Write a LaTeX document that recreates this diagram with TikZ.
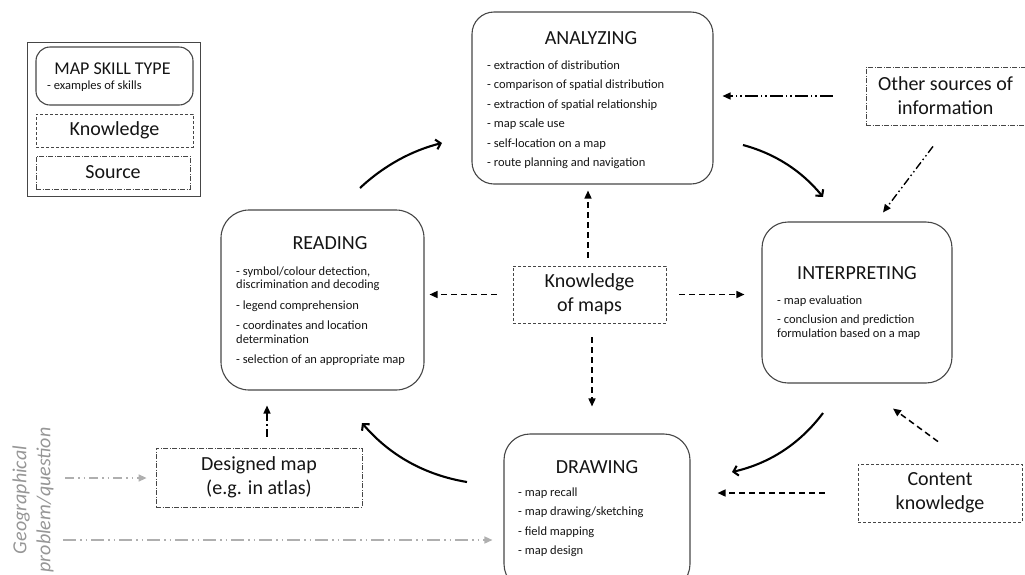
\documentclass[tikz,border=0pt]{standalone}
\usepackage{fontspec}
\setmainfont{Carlito}
\usetikzlibrary{arrows.meta,calc}
\definecolor{bord}{RGB}{70,70,70}
\definecolor{txt}{RGB}{20,20,20}
\definecolor{geo}{RGB}{150,150,150}
\definecolor{garr}{RGB}{175,175,175}
\newcommand\bigfnt{\fontsize{20}{24}\selectfont}
\newcommand\legfnt{\fontsize{18}{21}\selectfont}
\newcommand\itemfnt{\fontsize{12.5}{13.5}\selectfont}
\begin{document}
\begin{tikzpicture}[x=1pt,y=-1pt,
  skillbox/.style={draw=bord, line width=1.1pt, rounded corners=22pt, inner sep=0pt},
  knowbox/.style={draw=bord, line width=0.8pt, dash pattern=on 3pt off 2pt, inner sep=0pt, align=center, font=\bigfnt, text=txt},
  srcbox/.style={draw=bord, line width=0.8pt, dash pattern=on 5pt off 1.5pt on 1pt off 1.5pt, inner sep=0pt, align=center, font=\bigfnt, text=txt},
  ttl/.style={font=\bigfnt, inner sep=0pt, text=txt},
  items/.style={font=\itemfnt, align=left, inner sep=0pt, anchor=north west, text=txt},
  cyc/.style={line width=2.1pt, draw=black, -{Straight Barb[length=4.5pt,width=10pt]}},
  kno/.style={line width=1.5pt, dash pattern=on 6pt off 4pt, -{Triangle[length=8pt,width=7pt]}},
  srcarr/.style={line width=1.4pt, dash pattern=on 13pt off 3pt on 1.5pt off 3pt on 1.5pt off 3pt, -{Triangle[length=8pt,width=7pt]}},
  srcarrb/.style={line width=1.4pt, dash pattern=on 8pt off 3pt on 1.5pt off 3pt on 1.5pt off 3pt, -{Triangle[length=8pt,width=7pt]}},
  dmarr/.style={line width=1.4pt, dash pattern=on 8pt off 3pt on 1.5pt off 3pt, -{Triangle[length=8pt,width=7pt]}},
  grayarr/.style={line width=1.4pt, draw=garr, dash pattern=on 13pt off 4pt on 1.5pt off 4pt on 1.5pt off 4pt, -{Triangle[length=8pt,width=7pt,fill=garr]}},
]
\useasboundingbox (0,0) rectangle (1025,574);

% legend
\node[draw=bord, line width=1pt, minimum width=173pt, minimum height=154pt, inner sep=0pt] (leg) at (113.5,119) {};
\node[skillbox, rounded corners=14pt, minimum width=157pt, minimum height=58pt] (lskill) at (114.5,76) {};
\node[font=\legfnt, inner sep=0pt, text=txt] (lskillt) at (112.5,69) {MAP SKILL TYPE};
\node[items] (lskilli) at (47,80.5) {- examples of skills};
\node[knowbox, minimum width=157pt, minimum height=33pt] (lknow) at (114.5,130.5) {Knowledge};
\node[srcbox, minimum width=154pt, minimum height=33pt] (lsrc) at (113,172.5) {Source};

% ANALYZING
\node[skillbox, minimum width=241pt, minimum height=172pt] (ana) at (592.5,98) {};
\node[ttl] (anat) at (591,38) {ANALYZING};
\node[items] (anai) at (487,60.5) {- extraction of distribution\\[6pt]
- comparison of spatial distribution\\[6pt]
- extraction of spatial relationship\\[6pt]
- map scale use\\[6pt]
- self-location on a map\\[6pt]
- route planning and navigation};

% Other sources
\node[srcbox, minimum width=159pt, minimum height=58pt] (oth) at (945.5,96) {Other sources of\\information};

% READING
\node[skillbox, rounded corners=28pt, minimum width=203pt, minimum height=180pt] (read) at (322.5,300) {};
\node[ttl] (readt) at (330,243) {READING};
\node[items] (readi) at (236,266.5) {- symbol/colour detection,\\
discrimination and decoding\\[7pt]
- legend comprehension\\[7pt]
- coordinates and location\\
determination\\[7pt]
- selection of an appropriate map};

% Knowledge of maps
\node[knowbox, minimum width=153pt, minimum height=57pt] (km) at (589.5,294.5) {Knowledge\\of maps};

% INTERPRETING
\node[skillbox, rounded corners=26pt, minimum width=190pt, minimum height=161pt] (interp) at (857,302.5) {};
\node[ttl] (interpt) at (857,273) {INTERPRETING};
\node[items] (interpi) at (777,295.5) {- map evaluation\\[6pt]
- conclusion and prediction\\
formulation based on a map};

% DRAWING
\node[skillbox, rounded corners=26pt, minimum width=186pt, minimum height=156pt] (drw) at (597,512) {};
\node[ttl] (drwt) at (597,467) {DRAWING};
\node[items] (drwi) at (518,487.5) {- map recall\\[6pt]
- map drawing/sketching\\[6pt]
- field mapping\\[6pt]
- map design};

% Content knowledge
\node[knowbox, minimum width=164pt, minimum height=58pt] (cont) at (940,493) {Content\\knowledge};

% Designed map
\node[srcbox, minimum width=206pt, minimum height=59pt] (dm) at (259,477.5) {Designed map\\(e.g. in atlas)};

% Geographical problem/question
\node[rotate=90, align=center, font=\bigfnt\itshape, text=geo, inner sep=0pt] (geo) at (33,500) {Geographical\\problem/question};

% cycle arrows
\coordinate (c1s) at (360,188); \coordinate (c1e) at (442,143);
\coordinate (c2s) at (743,145); \coordinate (c2e) at (823,197);
\coordinate (c3s) at (823,413); \coordinate (c3e) at (732,472);
\coordinate (c4s) at (467,482); \coordinate (c4e) at (362,423);
\draw[cyc] (c1s) .. controls (384,165.5) and (412,150.5) .. (c1e);
\draw[cyc] (c2s) .. controls (775.3,153.7) and (801.9,171.1) .. (c2e);
\draw[cyc] (c3s) .. controls (799.9,443.8) and (769.5,463.4) .. (c3e);
\draw[cyc] (c4s) .. controls (424.8,475) and (389.8,455.4) .. (c4e);

% knowledge of maps arrows
\draw[kno, shorten <=16pt, shorten >=5pt] (km.west) -- (km.west -| read.east);
\draw[kno, shorten <=8pt, shorten >=6pt] ([xshift=-1.5pt]km.north) -- ([xshift=-1.5pt]km.north |- ana.south);
\draw[kno, shorten <=14pt, shorten >=27pt] ([xshift=2.5pt]km.south) -- ([xshift=2.5pt]km.south |- drw.north);
\draw[kno, shorten <=13pt, shorten >=17pt] (km.east) -- (km.east -| interp.west);

% other sources arrows
\draw[srcarr, shorten <=33pt, shorten >=9pt] (oth.west) -- (oth.west -| ana.east);
\draw[srcarrb] ([shift={(-12.5,21)}]oth.south) -- ([shift={(26,-9)}]interp.north);

% content knowledge arrows
\draw[kno, shorten <=33pt, shorten >=27pt] (cont.west) -- (cont.west -| drw.east);
\draw[kno] ([shift={(-2,-22)}]cont.north) -- ([shift={(36,25)}]interp.south);

% designed map arrow
\draw[dmarr, shorten <=11pt, shorten >=15pt] ([xshift=8pt]dm.north) -- ([xshift=8pt]dm.north |- read.south);

% gray arrows
\coordinate (g1) at (65,478);
\coordinate (g2) at (63,540);
\draw[grayarr, dash pattern=on 9pt off 4pt on 1.5pt off 4pt on 1.5pt off 4pt, shorten >=9pt] (g1) -- (dm.west |- g1);
\draw[grayarr, shorten >=11pt] (g2) -- (g2 -| drw.west);
\end{tikzpicture}
\end{document}
